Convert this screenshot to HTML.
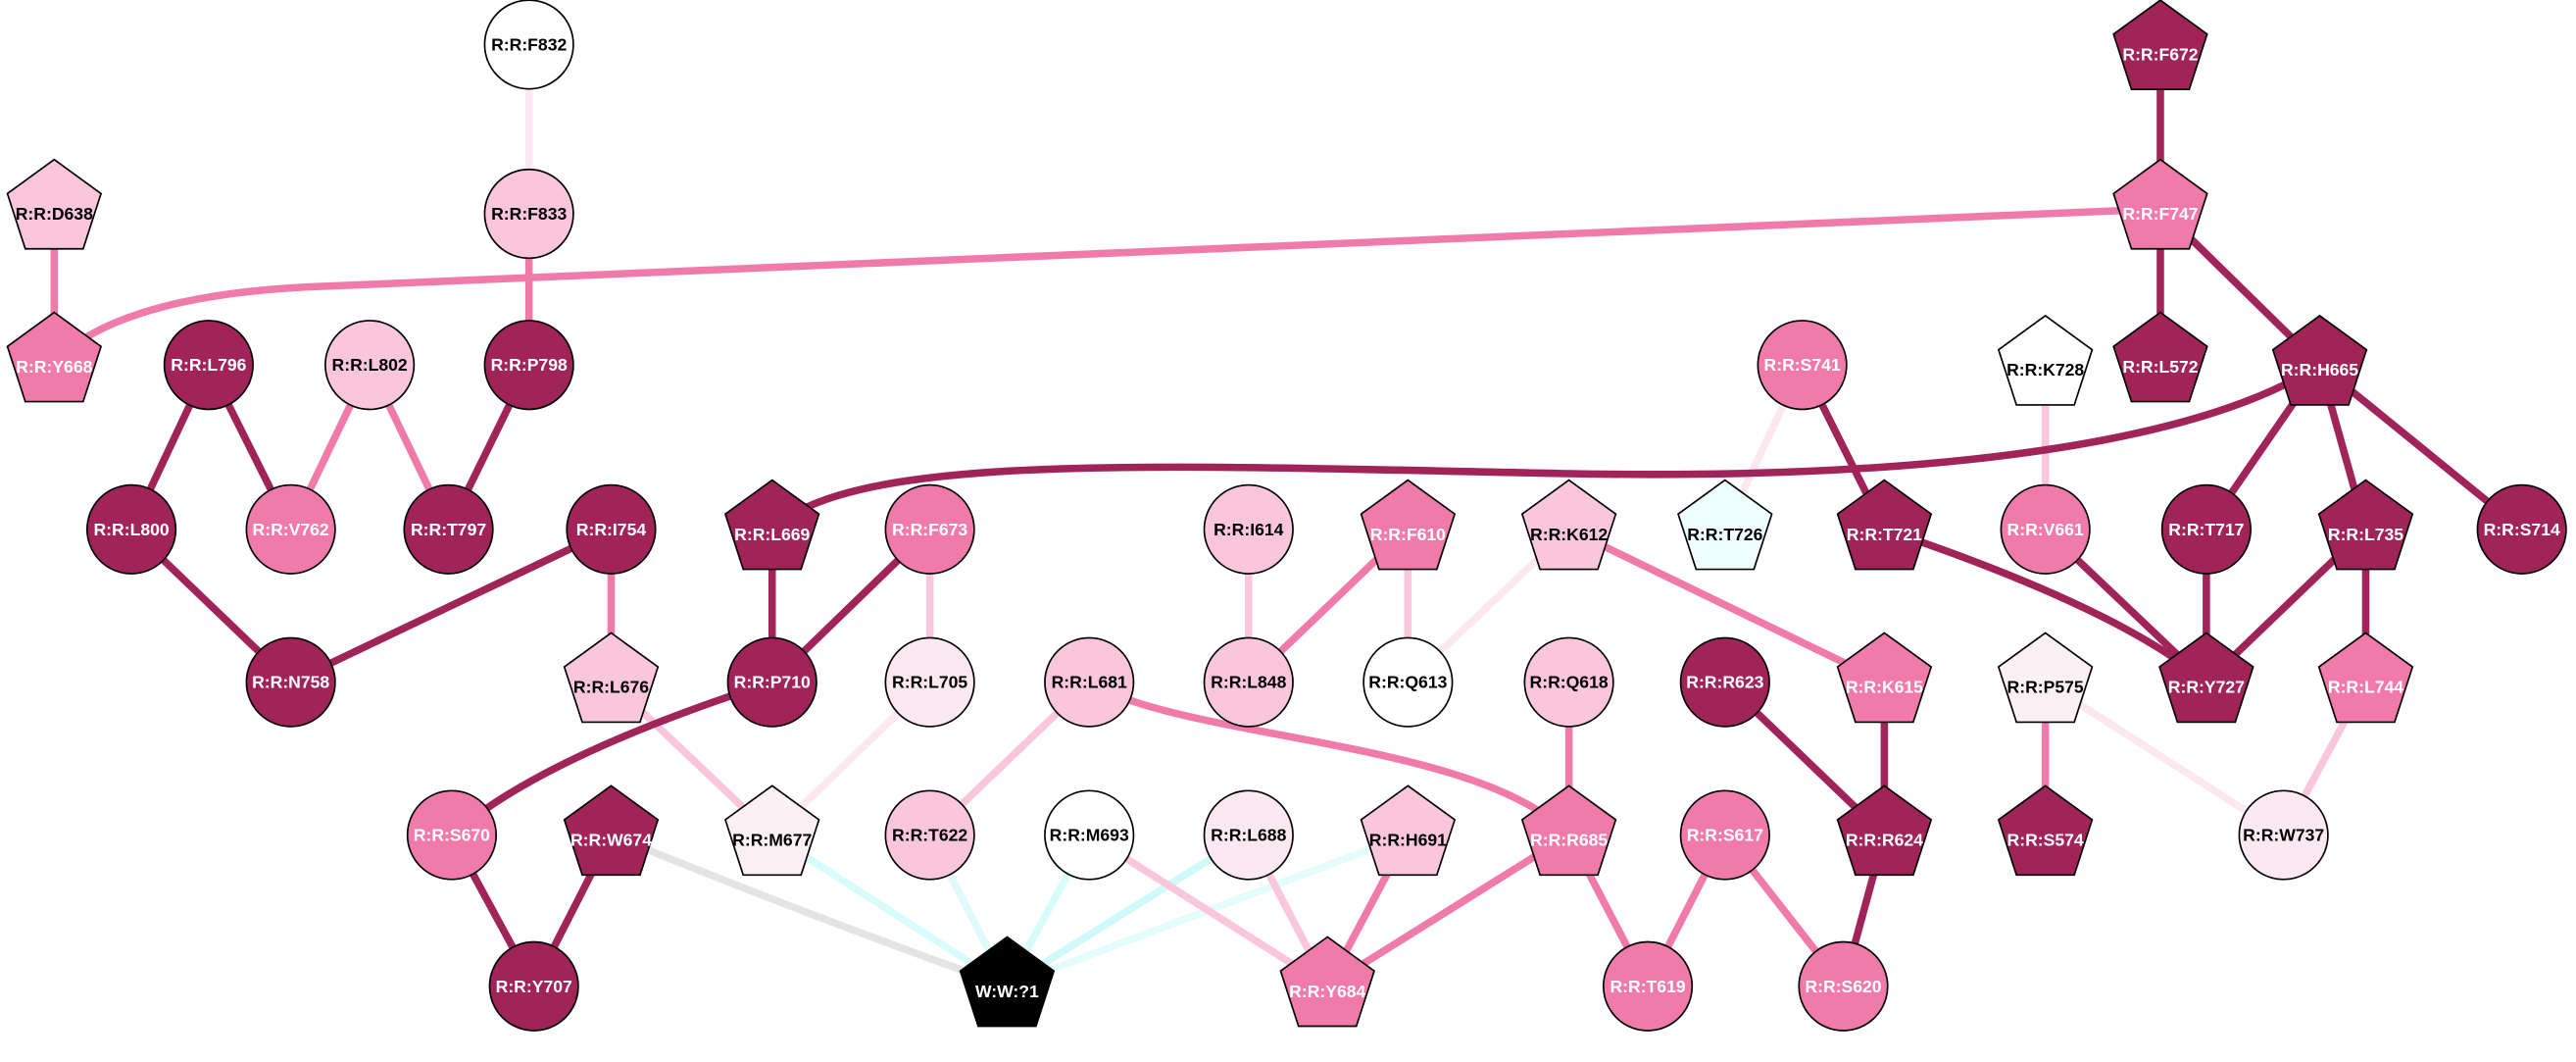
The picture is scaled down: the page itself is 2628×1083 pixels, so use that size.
<!DOCTYPE html>
<html><head><meta charset="utf-8"><style>
html,body{margin:0;padding:0;background:#fff;}
svg{display:block;}
text{font-family:"Liberation Sans",sans-serif;font-weight:bold;font-size:10.5px;text-anchor:middle;dominant-baseline:central;}
</style></head><body>
<svg width="2628" height="1083" viewBox="0 0 1568 646" xmlns="http://www.w3.org/2000/svg">
<defs>
<polygon id="pg" points="0,-30 28.5,-9.3 17.6,24.3 -17.6,24.3 -28.5,-9.3"/>
</defs>
<g fill="none" stroke-width="4.5">
<line x1="322" y1="27" x2="322" y2="130" stroke="#fce8f0"/>
<line x1="322" y1="130" x2="322" y2="222" stroke="#f07baa"/>
<line x1="33" y1="127" x2="33" y2="220" stroke="#f07baa"/>
<path d="M33,220 Q75,178 200,174 L1315,127" stroke="#f07baa"/>
<line x1="127" y1="222" x2="80" y2="322" stroke="#a0235a"/>
<line x1="127" y1="222" x2="177" y2="322" stroke="#a0235a"/>
<line x1="225" y1="222" x2="177" y2="322" stroke="#f07baa"/>
<line x1="225" y1="222" x2="273" y2="322" stroke="#f07baa"/>
<line x1="322" y1="222" x2="273" y2="322" stroke="#a0235a"/>
<line x1="80" y1="322" x2="177" y2="415" stroke="#a0235a"/>
<line x1="372" y1="322" x2="177" y2="415" stroke="#a0235a"/>
<line x1="372" y1="322" x2="372" y2="415" stroke="#f07baa"/>
<line x1="372" y1="415" x2="470" y2="508" stroke="#f9c6db"/>
<line x1="470" y1="322" x2="470" y2="415" stroke="#a0235a"/>
<line x1="566" y1="322" x2="470" y2="415" stroke="#a0235a"/>
<line x1="566" y1="322" x2="566" y2="415" stroke="#f9c6db"/>
<line x1="566" y1="415" x2="470" y2="508" stroke="#fce8f0"/>
<path d="M470,415 Q330,460 275,508" stroke="#a0235a"/>
<line x1="275" y1="508" x2="325" y2="600" stroke="#a0235a"/>
<line x1="372" y1="508" x2="325" y2="600" stroke="#a0235a"/>
<path d="M372,508 Q500,560 613,600" stroke="#e4e4e4"/>
<line x1="470" y1="508" x2="613" y2="600" stroke="#d8fcfc"/>
<line x1="566" y1="508" x2="613" y2="600" stroke="#e0fafa"/>
<line x1="663" y1="508" x2="613" y2="600" stroke="#d8fcfc"/>
<line x1="760" y1="508" x2="613" y2="600" stroke="#d0fafa"/>
<line x1="857" y1="508" x2="613" y2="600" stroke="#e4fcfc"/>
<line x1="663" y1="415" x2="566" y2="508" stroke="#f9c6db"/>
<path d="M663,415 C720,450 900,450 955,508" stroke="#f07baa"/>
<line x1="663" y1="508" x2="808" y2="600" stroke="#f9c6db"/>
<line x1="760" y1="508" x2="808" y2="600" stroke="#f9c6db"/>
<line x1="857" y1="508" x2="808" y2="600" stroke="#f07baa"/>
<line x1="955" y1="508" x2="808" y2="600" stroke="#f07baa"/>
<line x1="955" y1="415" x2="955" y2="508" stroke="#f07baa"/>
<line x1="760" y1="322" x2="760" y2="415" stroke="#f9c6db"/>
<line x1="857" y1="322" x2="760" y2="415" stroke="#f07baa"/>
<line x1="857" y1="322" x2="857" y2="415" stroke="#f9c6db"/>
<line x1="955" y1="322" x2="857" y2="415" stroke="#fce8f0"/>
<line x1="955" y1="322" x2="1147" y2="415" stroke="#f07baa"/>
<line x1="1050" y1="415" x2="1147" y2="508" stroke="#a0235a"/>
<line x1="1147" y1="415" x2="1147" y2="508" stroke="#a0235a"/>
<line x1="1147" y1="508" x2="1122" y2="600" stroke="#a0235a"/>
<line x1="1050" y1="508" x2="1003" y2="600" stroke="#f07baa"/>
<line x1="1050" y1="508" x2="1122" y2="600" stroke="#f07baa"/>
<line x1="955" y1="508" x2="1003" y2="600" stroke="#f07baa"/>
<line x1="1097" y1="222" x2="1050" y2="322" stroke="#fce8f0"/>
<line x1="1097" y1="222" x2="1147" y2="322" stroke="#a0235a"/>
<path d="M1147,322 Q1290,370 1343,415" stroke="#a0235a"/>
<line x1="1245" y1="222" x2="1245" y2="322" stroke="#f9c6db"/>
<line x1="1245" y1="322" x2="1343" y2="415" stroke="#a0235a"/>
<line x1="1315" y1="30" x2="1315" y2="127" stroke="#a0235a"/>
<line x1="1315" y1="127" x2="1315" y2="220" stroke="#a0235a"/>
<line x1="1315" y1="127" x2="1412" y2="222" stroke="#a0235a"/>
<path d="M1412,222 C1330,275 1150,292 950,288 C700,283 520,275 470,322" stroke="#a0235a"/>
<line x1="1412" y1="222" x2="1343" y2="322" stroke="#a0235a"/>
<line x1="1412" y1="222" x2="1440" y2="322" stroke="#a0235a"/>
<line x1="1412" y1="222" x2="1535" y2="322" stroke="#a0235a"/>
<line x1="1343" y1="322" x2="1343" y2="415" stroke="#a0235a"/>
<line x1="1440" y1="322" x2="1343" y2="415" stroke="#a0235a"/>
<line x1="1440" y1="322" x2="1440" y2="415" stroke="#a0235a"/>
<line x1="1440" y1="415" x2="1390" y2="508" stroke="#f9c6db"/>
<line x1="1245" y1="415" x2="1245" y2="508" stroke="#f07baa"/>
<line x1="1245" y1="415" x2="1390" y2="508" stroke="#fce8f0"/>
</g>
<g stroke="#000" stroke-width="1">
<circle cx="322" cy="27" r="27" fill="#fff"/>
<circle cx="322" cy="130" r="27" fill="#f9c6db"/>
<circle cx="322" cy="222" r="27" fill="#a0235a"/>
<use href="#pg" x="33" y="127" fill="#f9c6db"/>
<use href="#pg" x="33" y="220" fill="#f07baa"/>
<circle cx="127" cy="222" r="27" fill="#a0235a"/>
<circle cx="225" cy="222" r="27" fill="#f9c6db"/>
<circle cx="80" cy="322" r="27" fill="#a0235a"/>
<circle cx="177" cy="322" r="27" fill="#f07baa"/>
<circle cx="273" cy="322" r="27" fill="#a0235a"/>
<circle cx="372" cy="322" r="27" fill="#a0235a"/>
<circle cx="177" cy="415" r="27" fill="#a0235a"/>
<use href="#pg" x="372" y="415" fill="#f9c6db"/>
<use href="#pg" x="470" y="322" fill="#a0235a"/>
<circle cx="566" cy="322" r="27" fill="#f07baa"/>
<circle cx="470" cy="415" r="27" fill="#a0235a"/>
<circle cx="566" cy="415" r="27" fill="#fce8f0"/>
<circle cx="760" cy="322" r="27" fill="#f9c6db"/>
<use href="#pg" x="857" y="322" fill="#f07baa"/>
<use href="#pg" x="955" y="322" fill="#f9c6db"/>
<circle cx="760" cy="415" r="27" fill="#f9c6db"/>
<circle cx="857" cy="415" r="27" fill="#fff"/>
<circle cx="663" cy="415" r="27" fill="#f9c6db"/>
<circle cx="955" cy="415" r="27" fill="#f9c6db"/>
<circle cx="1050" cy="415" r="27" fill="#a0235a"/>
<use href="#pg" x="1147" y="415" fill="#f07baa"/>
<circle cx="1097" cy="222" r="27" fill="#f07baa"/>
<use href="#pg" x="1050" y="322" fill="#effffe"/>
<use href="#pg" x="1147" y="322" fill="#a0235a"/>
<use href="#pg" x="1245" y="222" fill="#fff"/>
<circle cx="1245" cy="322" r="27" fill="#f07baa"/>
<use href="#pg" x="1315" y="30" fill="#a0235a"/>
<use href="#pg" x="1315" y="127" fill="#f07baa"/>
<use href="#pg" x="1315" y="220" fill="#a0235a"/>
<use href="#pg" x="1412" y="222" fill="#a0235a"/>
<circle cx="1343" cy="322" r="27" fill="#a0235a"/>
<use href="#pg" x="1440" y="322" fill="#a0235a"/>
<circle cx="1535" cy="322" r="27" fill="#a0235a"/>
<use href="#pg" x="1343" y="415" fill="#a0235a"/>
<use href="#pg" x="1440" y="415" fill="#f07baa"/>
<use href="#pg" x="1245" y="415" fill="#fdf0f5"/>
<circle cx="1390" cy="508" r="27" fill="#fce8f0"/>
<use href="#pg" x="1245" y="508" fill="#a0235a"/>
<use href="#pg" x="1147" y="508" fill="#a0235a"/>
<circle cx="1050" cy="508" r="27" fill="#f07baa"/>
<circle cx="1003" cy="600" r="27" fill="#f07baa"/>
<circle cx="1122" cy="600" r="27" fill="#f07baa"/>
<use href="#pg" x="955" y="508" fill="#f07baa"/>
<use href="#pg" x="857" y="508" fill="#f9c6db"/>
<circle cx="760" cy="508" r="27" fill="#fce8f0"/>
<circle cx="663" cy="508" r="27" fill="#fff"/>
<circle cx="566" cy="508" r="27" fill="#f9c6db"/>
<use href="#pg" x="470" y="508" fill="#fdf0f5"/>
<use href="#pg" x="372" y="508" fill="#a0235a"/>
<circle cx="275" cy="508" r="27" fill="#f07baa"/>
<circle cx="325" cy="600" r="27" fill="#a0235a"/>
<use href="#pg" x="613" y="600" fill="#000"/>
<use href="#pg" x="808" y="600" fill="#f07baa"/>
</g>
<g fill="#000">
<text x="322" y="27">R:R:F832</text>
<text x="322" y="130">R:R:F833</text>
<text x="33" y="130">R:R:D638</text>
<text x="225" y="222">R:R:L802</text>
<text x="372" y="418">R:R:L676</text>
<text x="566" y="415">R:R:L705</text>
<text x="760" y="322">R:R:I614</text>
<text x="955" y="325">R:R:K612</text>
<text x="760" y="415">R:R:L848</text>
<text x="857" y="415">R:R:Q613</text>
<text x="663" y="415">R:R:L681</text>
<text x="955" y="415">R:R:Q618</text>
<text x="1050" y="325">R:R:T726</text>
<text x="1245" y="225">R:R:K728</text>
<text x="1245" y="418">R:R:P575</text>
<text x="1390" y="508">R:R:W737</text>
<text x="857" y="511">R:R:H691</text>
<text x="760" y="508">R:R:L688</text>
<text x="663" y="508">R:R:M693</text>
<text x="566" y="508">R:R:T622</text>
<text x="470" y="511">R:R:M677</text>
</g>
<g fill="#fff">
<text x="322" y="222">R:R:P798</text>
<text x="33" y="223">R:R:Y668</text>
<text x="127" y="222">R:R:L796</text>
<text x="80" y="322">R:R:L800</text>
<text x="177" y="322">R:R:V762</text>
<text x="273" y="322">R:R:T797</text>
<text x="372" y="322">R:R:I754</text>
<text x="177" y="415">R:R:N758</text>
<text x="470" y="325">R:R:L669</text>
<text x="566" y="322">R:R:F673</text>
<text x="470" y="415">R:R:P710</text>
<text x="857" y="325">R:R:F610</text>
<text x="1050" y="415">R:R:R623</text>
<text x="1147" y="418">R:R:K615</text>
<text x="1097" y="222">R:R:S741</text>
<text x="1147" y="325">R:R:T721</text>
<text x="1245" y="322">R:R:V661</text>
<text x="1315" y="33">R:R:F672</text>
<text x="1315" y="130">R:R:F747</text>
<text x="1315" y="223">R:R:L572</text>
<text x="1412" y="225">R:R:H665</text>
<text x="1343" y="322">R:R:T717</text>
<text x="1440" y="325">R:R:L735</text>
<text x="1535" y="322">R:R:S714</text>
<text x="1343" y="418">R:R:Y727</text>
<text x="1440" y="418">R:R:L744</text>
<text x="1245" y="511">R:R:S574</text>
<text x="1147" y="511">R:R:R624</text>
<text x="1050" y="508">R:R:S617</text>
<text x="1003" y="600">R:R:T619</text>
<text x="1122" y="600">R:R:S620</text>
<text x="955" y="511">R:R:R685</text>
<text x="372" y="511">R:R:W674</text>
<text x="275" y="508">R:R:S670</text>
<text x="325" y="600">R:R:Y707</text>
<text x="613" y="603">W:W:?1</text>
<text x="808" y="603">R:R:Y684</text>
</g>
</svg>
</body></html>
